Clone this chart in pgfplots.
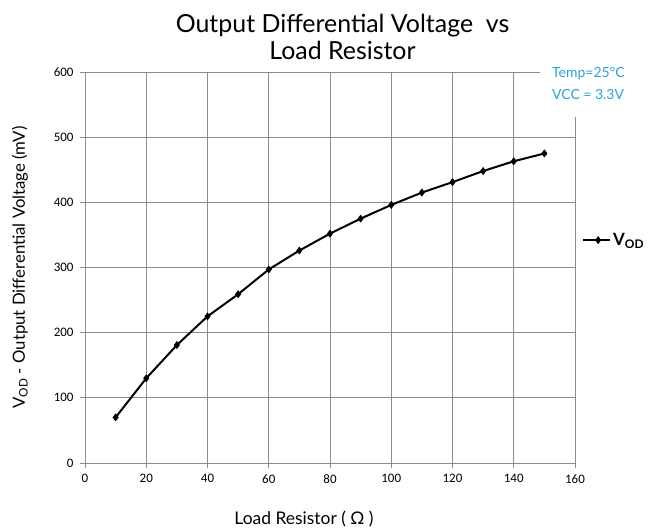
\documentclass[border=0pt]{standalone}
\usepackage{fontspec}
\setmainfont{Lato}
\newfontfamily\tickfont{Carlito}
\usepackage{pgfplots}
\pgfplotsset{compat=1.18}
\definecolor{gridgray}{RGB}{140,140,140}
\definecolor{annblue}{RGB}{41,163,221}
\begin{document}
\begin{tikzpicture}
\useasboundingbox (-85bp,-66bp) rectangle (580bp,463bp);
\begin{axis}[
  at={(0,0)}, anchor=south west,
  width=490bp, height=391bp, scale only axis,
  xmin=0, xmax=160, ymin=0, ymax=600,
  xtick={0,20,...,160}, ytick={0,100,...,600},
  grid=major,
  grid style={gridgray, line width=0.7pt},
  axis line style={gridgray, line width=0.8pt},
  tick style={gridgray, line width=0.7pt},
  tick align=outside,
  major tick length=5bp,
  xtick pos=bottom, ytick pos=left,
  /pgf/number format/assume math mode=true,
  ticklabel style={font=\tickfont\fontsize{13}{14}\selectfont, text=black},
  xticklabel style={yshift=-3bp},
  yticklabel style={xshift=-3bp},
  xlabel={Load Resistor ( Ω )},
  xlabel style={font=\fontsize{17.5}{19}\selectfont, at={(axis description cs:0.447,-0.143)}, anchor=center},
  ylabel={V\textsubscript{OD} - Output Differential Voltage (mV)},
  ylabel style={font=\fontsize{16.8}{18}\selectfont, at={(axis description cs:-0.1327,0.5)}, anchor=center},
  legend style={at={(axis description cs:1,0.57)}, anchor=west, xshift=5bp, draw=none, fill=none,
    font=\bfseries\fontsize{17}{19}\selectfont, inner sep=2bp},
  legend cell align=left,
  legend image code/.code={\draw[mark repeat=2,mark phase=2,#1] plot coordinates {(0bp,0bp) (15bp,0bp) (27bp,0bp)};},
  clip=false,
]
\addplot[black, line width=2pt, mark=diamond*, mark size=3.6pt,
  mark options={solid, line width=0.5pt}]
  coordinates {
  (10,70) (20,130) (30,181) (40,225) (50,259) (60,297) (70,326) (80,352)
  (90,375) (100,396) (110,415) (120,431) (130,448) (140,463) (150,475)
  };
\addlegendentry{V\textsubscript{OD}}
\end{axis}
\fill[white] (455bp,346bp) rectangle (550bp,410bp);
\node[anchor=base west, text=annblue, font=\fontsize{14}{14}\selectfont, inner sep=0pt]
  at (467bp,385bp) {Temp=25°C};
\node[anchor=base west, text=annblue, font=\fontsize{14}{14}\selectfont, inner sep=0pt]
  at (467bp,363bp) {VCC = 3.3V};
\node[anchor=base, font=\fontsize{25}{27}\selectfont, inner sep=0pt]
  at (257.5bp,430bp) {Output Differential Voltage \ vs};
\node[anchor=base, font=\fontsize{25}{27}\selectfont, inner sep=0pt]
  at (257.5bp,403bp) {Load Resistor};
\end{tikzpicture}
\end{document}
